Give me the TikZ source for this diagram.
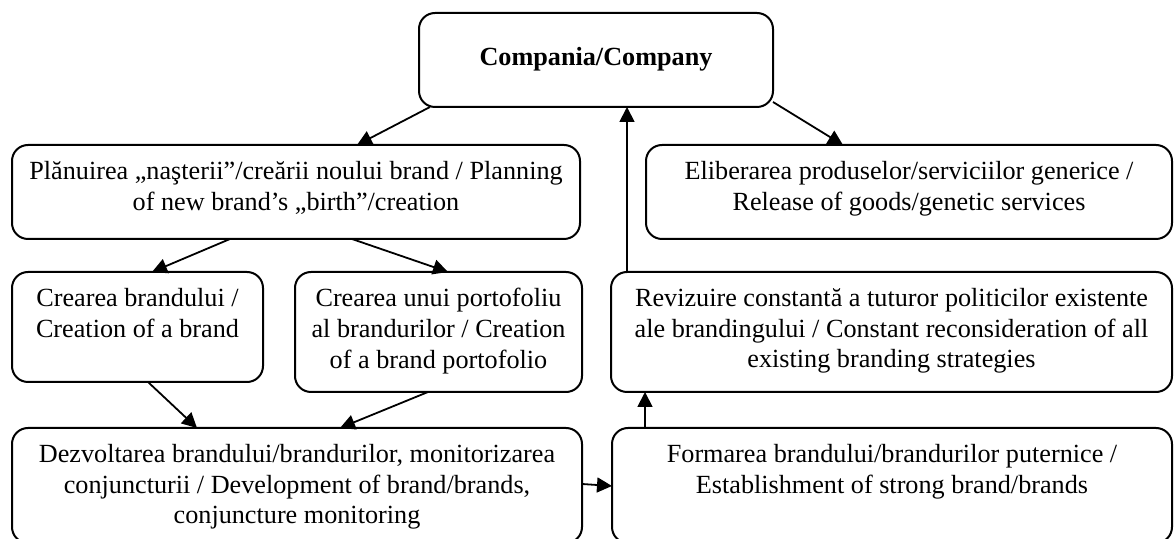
\documentclass[tikz,border=0pt]{standalone}
\usepackage{fontspec}
\setmainfont{Liberation Serif}
\usetikzlibrary{arrows.meta}
\begin{document}
\begin{tikzpicture}[x=0.5pt,y=-0.5pt,
  box/.style={draw, line width=1pt, rounded corners=8pt, inner sep=0pt, outer sep=0pt},
  txt/.style={align=center, inner sep=0pt, font=\fontsize{13.1pt}{15.3pt}\selectfont, anchor=north},
  arr/.style={line width=0.9pt, -{Triangle[length=7.5pt,width=7.5pt]}}]
\useasboundingbox (0,0) rectangle (1174,539);
% boxes
\node[box, minimum width=177pt, minimum height=47pt] (company) at (596,60) {};
\node[box, minimum width=284pt, minimum height=47pt] (plan) at (296,192) {};
\node[box, minimum width=263pt, minimum height=47pt] (elib) at (909,192) {};
\node[box, minimum width=125.5pt, minimum height=55pt] (crea) at (137.5,327) {};
\node[box, minimum width=143.5pt, minimum height=60pt] (port) at (438.5,332) {};
\node[box, minimum width=280.5pt, minimum height=60pt] (rev) at (891.5,332) {};
\node[box, minimum width=285pt, minimum height=57.5pt] (dezv) at (297,485.5) {};
\node[box, minimum width=280pt, minimum height=57.5pt] (form) at (892,485.5) {};
% texts
\node[txt, anchor=base, font=\fontsize{13.1pt}{15.3pt}\selectfont\bfseries] (tcompany) at (596,66) {Compania/Company};
\node[txt] (tplan) at (296,161) {Plănuirea „naşterii”/creării noului brand / Planning\\of new brand’s „birth”/creation};
\node[txt] (telib) at (909,161) {Eliberarea produselor/serviciilor generice /\\Release of goods/genetic services};
\node[txt] (tcrea) at (137.5,288) {Crearea brandului /\\Creation of a brand};
\node[txt] (tport) at (438.5,288) {Crearea unui portofoliu\\al brandurilor / Creation\\of a brand portofolio};
\node[txt] (trev) at (891.5,288) {Revizuire constantă a tuturor politicilor existente\\ale brandingului / Constant reconsideration of all\\existing branding strategies};
\node[txt] (tdezv) at (297,444) {Dezvoltarea brandului/brandurilor, monitorizarea\\conjuncturii / Development of brand/brands,\\conjuncture monitoring};
\node[txt] (tform) at (892,444) {Formarea brandului/brandurilor puternice /\\Establishment of strong brand/brands};
% connectors
\draw[arr] ([xshift=5.5pt]company.south west) -- ([xshift=30.5pt]plan.north);
\draw[arr] ([yshift=2.5pt]company.south east) -- ([xshift=-33pt]elib.north);
\draw[arr] ([xshift=8pt]rev.north west) -- ([xshift=8pt]rev.north west |- company.south);
\draw[arr] ([xshift=-33pt]plan.south) -- ([xshift=7.25pt]crea.north);
\draw[arr] ([xshift=28pt]plan.south) -- ([xshift=4.75pt]port.north);
\draw[arr] ([xshift=5.25pt]crea.south) -- ([xshift=-50pt]dezv.north);
\draw[arr] ([xshift=-5.25pt]port.south) -- ([xshift=21.5pt]dezv.north);
\draw[arr] ([yshift=0.75pt]dezv.east) -- ([yshift=-0.25pt]form.west);
\draw[arr] ([xshift=16.5pt]form.north west) -- ([xshift=16.5pt]form.north west |- rev.south);
\end{tikzpicture}
\end{document}
